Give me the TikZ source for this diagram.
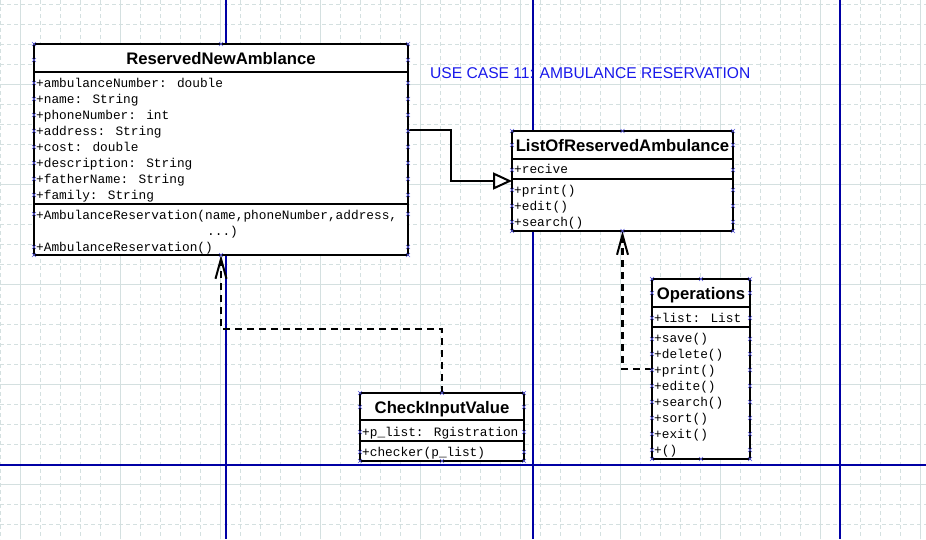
\documentclass[tikz,border=0pt]{standalone}
\usepackage{fontspec}
\setmainfont{Liberation Sans}
\newfontfamily\monof{Liberation Mono}
\usetikzlibrary{arrows.meta}
\definecolor{gridc}{RGB}{212,224,224}
\definecolor{navy}{RGB}{0,0,165}
\definecolor{hcol}{RGB}{90,90,220}
\definecolor{titleblue}{RGB}{25,25,235}
\newcommand\hx[2]{\draw[hcol,line width=0.6pt] (#1-2,#2-2)--(#1+2,#2+2) (#1-2,#2+2)--(#1+2,#2-2);}
\begin{document}
\begin{tikzpicture}[x=1pt,y=-1pt,
  umlbox/.style={draw=black, line width=2.6pt, fill=white, rectangle, inner sep=0pt, outer sep=0pt, anchor=north west},
  sepline/.style={line width=2.6pt},
  ttl/.style={font=\bfseries\fontsize{16.7}{18}\selectfont, anchor=base, inner sep=0pt},
  mono/.style={font=\monof\fontsize{12.8}{14}\selectfont, anchor=base west, inner sep=0pt},
  dep/.style={line width=2.4pt, dash pattern=on 7pt off 5pt, -{Straight Barb[length=20pt,width=11pt,line width=2pt]}},
  gen/.style={line width=2pt, -{Triangle[open,length=19pt,width=17pt,fill=white,line width=2pt]}},
  gridd/.style={gridc, line width=1pt, dash pattern=on 4pt off 3pt},
  grids/.style={gridc, line width=1pt},
  blueline/.style={navy, line width=1.2pt}
]
\useasboundingbox (0,0) rectangle (926,539);
\fill[white] (0,0) rectangle (926,539);
% grid
\foreach \x in {0,20,...,920} \draw[gridd] (\x,0) -- (\x,539);
\foreach \y in {4,24,...,524} \draw[gridd] (0,\y) -- (926,\y);
\foreach \x in {20,120,...,920} \draw[grids] (\x,0) -- (\x,539);
\foreach \y in {84,184,...,484} \draw[grids] (0,\y) -- (926,\y);
% page lines
\draw[blueline] (226,0) -- (226,539);
\draw[blueline] (533,0) -- (533,539);
\draw[blueline] (840,0) -- (840,539);
\draw[blueline] (0,465) -- (926,465);

% title
\node[font=\fontsize{15.6}{18}\selectfont, text=titleblue, anchor=base west, inner sep=0pt] (uc) at (430,78) {USE CASE 11: AMBULANCE RESERVATION};

% ReservedNewAmblance
\node[umlbox, minimum width=374pt, minimum height=211pt] (rna) at (34,44) {};
\draw[sepline] (34,72) -- (408,72);
\draw[sepline] (34,204) -- (408,204);
\node[ttl] (rnat) at (221,64) {ReservedNewAmblance};
\foreach \t [count=\i] in {+ambulanceNumber: double, +name: String, +phoneNumber: int, +address: String, +cost: double, +description: String, +fatherName: String, +family: String}
  \node[mono] (rnaa\i) at (36,71+16*\i) {\t};
\node[mono] (rnam1) at (36,219) {+AmbulanceReservation(name,phoneNumber,address,};
\node[mono] (rnam2) at (207,235) {...)};
\node[mono] (rnam3) at (36,251) {+AmbulanceReservation()};

% ListOfReservedAmbulance
\node[umlbox, minimum width=221pt, minimum height=100pt] (lora) at (512,131) {};
\draw[sepline] (512,159) -- (733,159);
\draw[sepline] (512,179) -- (733,179);
\node[ttl] (lorat) at (622.5,151) {ListOfReservedAmbulance};
\node[mono] (loraa1) at (514,173) {+recive};
\foreach \t [count=\i] in {+print(), +edit(), +search()}
  \node[mono] (loram\i) at (514,178+16*\i) {\t};

% CheckInputValue
\node[umlbox, minimum width=164pt, minimum height=68pt] (civ) at (360,393) {};
\draw[sepline] (360,420) -- (524,420);
\draw[sepline] (360,441) -- (524,441);
\node[ttl] (civt) at (442,413) {CheckInputValue};
\node[mono] (civa1) at (362,436) {+p\_list: Rgistration};
\node[mono] (civm1) at (362,456) {+checker(p\_list)};

% Operations
\node[umlbox, minimum width=98pt, minimum height=180pt] (ops) at (652,279) {};
\draw[sepline] (652,307) -- (750,307);
\draw[sepline] (652,327) -- (750,327);
\node[ttl] (opst) at (701,299) {Operations};
\node[mono] (opsa1) at (654,322) {+list: List};
\foreach \t [count=\i] in {+save(), +delete(), +print(), +edite(), +search(), +sort(), +exit(), +()}
  \node[mono] (opsm\i) at (654,326+16*\i) {\t};

% connectors
\coordinate (g1) at (451,130);
\coordinate (g2) at (451,181);
\draw[gen] (rna.east |- g1) -- (g1) -- (g2) -- (lora.west |- g2);
\coordinate (c1) at (442,329);
\coordinate (c2) at (221,329);
\draw[dep] (civ.north) -- (c1) -- (c2) -- (rna.south);
\coordinate (o1) at (622.5,369);
\draw[dep] (ops.west |- o1) -- (o1) -- (lora.south);

% handles
\foreach \y in {44,60,83,99,115,131,147,163,179,195,214,247,255} {\hx{34}{\y}\hx{408}{\y}}
\hx{221}{44}\hx{221}{255}
\foreach \y in {131,145,170,190,206,222,231} {\hx{512}{\y}\hx{733}{\y}}
\hx{622.5}{131}\hx{622.5}{231}
\foreach \y in {393,407,432,452,461} {\hx{360}{\y}\hx{524}{\y}}
\hx{442}{393}\hx{442}{461}
\foreach \y in {279,293,318,339,354,370,386,402,418,434,450,459} {\hx{652}{\y}\hx{750}{\y}}
\hx{701}{279}\hx{701}{459}
\end{tikzpicture}
\end{document}
